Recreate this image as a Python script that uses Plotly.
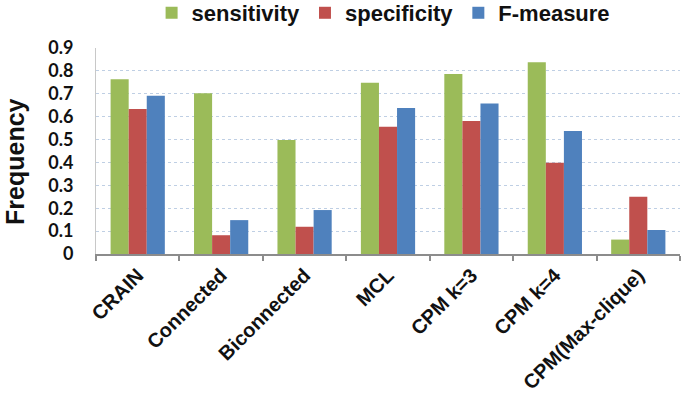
import plotly.graph_objects as go

categories = ["CRAIN", "Connected", "Biconnected", "MCL", "CPM k=3", "CPM k=4", "CPM(Max-clique)"]
sensitivity = [0.763, 0.702, 0.498, 0.748, 0.786, 0.838, 0.063]
specificity = [0.633, 0.082, 0.119, 0.556, 0.581, 0.399, 0.250]
f_measure = [0.691, 0.148, 0.192, 0.638, 0.658, 0.537, 0.105]
y_ticks = [0, 0.1, 0.2, 0.3, 0.4, 0.5, 0.6, 0.7, 0.8, 0.9]
y_tick_text = ["0", "0.1", "0.2", "0.3", "0.4", "0.5", "0.6", "0.7", "0.8", "0.9"]

series = [
    ("sensitivity", sensitivity, "#9BBB59"),
    ("specificity", specificity, "#C0504D"),
    ("F-measure", f_measure, "#4F81BD"),
]

fig = go.Figure()
for name, vals, color in series:
    fig.add_trace(go.Bar(x=categories, y=vals, name=name, marker=dict(color=color, line=dict(width=0))))

fig.update_layout(
    width=685, height=411,
    margin=dict(l=96, r=5, t=48, b=157, autoexpand=False),
    paper_bgcolor="white", plot_bgcolor="white",
    barmode="group", bargap=0.35, bargroupgap=0,
    showlegend=True,
    legend=dict(orientation="h", x=0.56, xanchor="center", xref="container",
                y=1.17, yanchor="middle", yref="paper",
                font=dict(family="Liberation Sans", size=22, color="#111", weight="bold"),
                itemwidth=30, traceorder="normal"),
    xaxis=dict(
        type="category", showgrid=False, automargin=False,
        showline=True, linecolor="#8c8c8c", linewidth=1.5,
        ticks="outside", tickson="boundaries", ticklen=5, tickcolor="#8c8c8c", tickwidth=1.5,
        tickangle=-45,
        tickfont=dict(family="Liberation Sans", size=20, color="#111", weight="bold"),
    ),
    yaxis=dict(
        range=[0, 0.9], tickvals=y_ticks, ticktext=y_tick_text, automargin=False,
        showgrid=True, gridcolor="#BFCFE4", griddash="dot", gridwidth=1,
        zeroline=False,
        showline=True, linecolor="#c8c8c8", linewidth=1,
        ticks="", ticklabelstandoff=18,
        tickfont=dict(family="Lato", size=18, color="#111", weight="bold"),
    ),
    annotations=[dict(
        text="Frequency", textangle=-90, showarrow=False,
        xref="paper", yref="paper", x=-0.139, y=0.451, xanchor="center", yanchor="middle",
        font=dict(family="Liberation Sans", size=25, color="#111", weight="bold"),
    )],
)

fig.write_html("out.html", config={"displayModeBar": False},
               post_script="document.body.style.margin='0';")
